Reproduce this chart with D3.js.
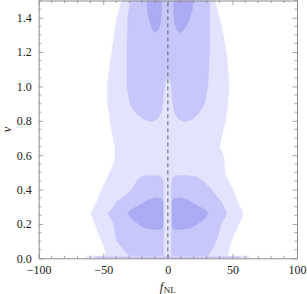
<!DOCTYPE html>
<html><head><meta charset="utf-8">
<script src="https://cdn.jsdelivr.net/npm/d3@7"></script>
<style>html,body{margin:0;padding:0;background:#fff;}svg{display:block;}</style>
</head><body>
<svg id="c" width="307" height="294"></svg>
<script>
// ---- data: contour boundaries as [fNL, nu] ----
const xTicks = [-100, -50, 0, 50, 100];
const yTicks = [0.0, 0.2, 0.4, 0.6, 0.8, 1.0, 1.2, 1.4];
const xDomain = [-100, 100];
const yDomain = [0, 1.5];

const outerRegion = [
  [-35.5,1.56],[-35.7,1.5],[-39.6,1.4],[-41.5,1.3],[-43.4,1.2],[-45.5,1.1],[-46.8,1.0],[-46.5,0.9],
  [-44.8,0.8],[-42.5,0.7],[-40.9,0.645],[-40.9,0.6],[-42,0.55],[-44.8,0.5],[-48,0.45],
  [-51.2,0.4],[-54,0.35],[-56.9,0.3],[-59.7,0.26],[-58,0.23],[-56.4,0.2],[-54,0.15],
  [-51.2,0.1],[-49,0.05],[-47.3,0.0],[-47,-0.05],
  [45.8,-0.05],[45.8,0],[47.5,0.05],[49.2,0.1],[52,0.15],[55,0.2],[57,0.23],[58.2,0.26],[56,0.3],
  [53,0.35],[50.5,0.4],[47,0.45],[44,0.5],[44,0.55],[43,0.6],[40.2,0.645],[41.4,0.7],
  [43,0.75],[44.8,0.8],[46.5,0.9],[47.4,1.0],[46.5,1.1],[45.3,1.2],[43,1.3],[40.2,1.4],[36.3,1.5],[36,1.56]
];

const middleUpper = [
  [-29,1.56],[-29.3,1.5],[-31,1.4],[-31.8,1.2],[-31.8,1.0],[-29.3,0.9],[-27.5,0.87],[-24,0.84],
  [-19,0.81],[-13,0.795],[-8,0.81],[-5,0.85],[-3.5,0.92],[-2.7,1.0],[-1.5,1.04],[0,1.05],
  [1.5,1.04],[2.7,1.0],[3.5,0.92],[5,0.85],[8,0.81],[13,0.795],[19.5,0.81],[24.6,0.85],
  [28.5,0.9],[31,1.0],[32.4,1.2],[32.4,1.4],[32.4,1.5],[32.4,1.56]
];

const middleLowerLeft = [
  [-3.2,-0.05],[-3.2,0.44],[-4.5,0.47],[-7,0.48],[-14,0.482],[-20,0.478],[-24,0.45],[-28,0.4],
  [-34,0.36],[-39.6,0.33],[-42,0.3],[-46.5,0.26],[-44,0.23],[-42,0.2],[-41,0.15],[-39.6,0.1],
  [-34,0.05],[-28,0.0],[-27,-0.05]
];

const middleLowerRight = [
  [2.7,-0.05],[2.7,0.44],[3.8,0.47],[6,0.482],[14,0.482],[22,0.475],[27.3,0.45],[33.7,0.4],
  [38,0.36],[41.4,0.33],[43.5,0.3],[45.8,0.26],[43.5,0.23],[41.4,0.2],[39.5,0.15],[37.5,0.1],
  [34,0.05],[29.8,0.0],[29,-0.05]
];

const innerUpperLeft = [
  [-16.6,1.56],[-16.4,1.5],[-15.5,1.42],[-13.5,1.36],[-11.5,1.325],[-9.5,1.313],[-7.2,1.33],
  [-5.6,1.37],[-4.9,1.44],[-4.8,1.5],[-4.8,1.56]
];

const innerUpperRight = [
  [4.3,1.56],[4.3,1.5],[4.5,1.42],[5.5,1.36],[7.5,1.322],[9.4,1.312],[11.5,1.322],[14.5,1.355],
  [17.2,1.40],[19,1.45],[19.7,1.5],[19.8,1.56]
];

const innerLowerLeft = [
  [-3.7,0.33],[-5,0.348],[-10,0.352],[-15.9,0.337],[-22,0.31],[-29.3,0.28],[-30.6,0.26],
  [-29,0.24],[-26.7,0.22],[-21,0.19],[-16.4,0.173],[-10,0.167],[-5,0.17],[-3.7,0.185]
];

const innerLowerRight = [
  [3.2,0.185],[4.5,0.17],[10,0.167],[16,0.173],[21,0.19],[27,0.22],[29.5,0.24],[31.1,0.26],
  [29.5,0.28],[22,0.31],[16,0.337],[10,0.352],[4.5,0.348],[3.2,0.33]
];

const bottomStripOuter = [[-63,0],[63,0],[63,0.013],[-63,0.013]];
const bottomStripMiddle = [[-56,0],[56,0],[56,0.009],[-56,0.009]];

const referenceLine = [[0,0],[0,1.5]];

// ---- drawing ----
const W = 307, H = 294;
const L = 38.7, R = 297, T = 0.5, B = 258.3;
const svg = d3.select("#c");
const x = d3.scaleLinear().domain(xDomain).range([L, R]);
const y = d3.scaleLinear().domain(yDomain).range([B, T]);

svg.append("defs").append("clipPath").attr("id","clip")
  .append("rect").attr("x",L).attr("y",T).attr("width",R-L).attr("height",B-T);

const g = svg.append("g").attr("clip-path","url(#clip)");
const area = d3.line().x(d=>x(d[0])).y(d=>y(d[1])).curve(d3.curveLinearClosed);

const cOuter = "#e3e3fe", cMid = "#c7c7fb", cIn = "#ababf3";
[[outerRegion,cOuter],[middleUpper,cMid],[middleLowerLeft,cMid],[middleLowerRight,cMid],
 [innerUpperLeft,cIn],[innerUpperRight,cIn],[innerLowerLeft,cIn],[innerLowerRight,cIn],
 [bottomStripOuter,cOuter],[bottomStripMiddle,cMid]]
 .forEach(([pts,c])=>{
   g.append("path").attr("d",area(pts)).attr("fill",c).attr("stroke",c).attr("stroke-width",0.4);
 });

g.append("path")
  .attr("d", d3.line().x(d=>x(d[0])).y(d=>y(d[1]))(referenceLine))
  .attr("stroke","#666").attr("stroke-width",1).attr("stroke-dasharray","4,3").attr("fill","none");

// frame and ticks (Mathematica style: ticks inside on all sides)
const frameColor = "#8c8c8c";
const font = "'Liberation Serif', 'Times New Roman', 'DejaVu Serif', serif";
const axB = svg.append("g").attr("transform",`translate(0,${B})`)
  .call(d3.axisBottom(x).tickValues(xTicks).tickSizeInner(-4.5).tickSizeOuter(0)
        .tickFormat(d=>d3.format("")(d).replace("-","\u2212")).tickPadding(7));
const axT = svg.append("g").attr("transform",`translate(0,${T})`)
  .call(d3.axisTop(x).tickValues(xTicks).tickSizeInner(-4.5).tickSizeOuter(0).tickFormat(""));
const axL = svg.append("g").attr("transform",`translate(${L},0)`)
  .call(d3.axisLeft(y).tickValues(yTicks).tickSizeInner(-4.5).tickSizeOuter(0)
        .tickFormat(d3.format(".1f")).tickPadding(7));
const axR = svg.append("g").attr("transform",`translate(${R},0)`)
  .call(d3.axisRight(y).tickValues(yTicks).tickSizeInner(-4.5).tickSizeOuter(0).tickFormat(""));

// minor ticks
const xMinor = d3.range(-100, 100.1, 10).filter(v => v % 50 !== 0);
const yMinor = d3.range(0, 1.5001, 0.05).map(v=>+v.toFixed(2)).filter(v => Math.abs(v*5 - Math.round(v*5))>1e-6);
[[axB,-2.5],[axT,2.5]].forEach(([a,s],i)=>{
  a.selectAll("line.minor").data(xMinor).enter().append("line").attr("class","minor")
   .attr("x1",d=>x(d)).attr("x2",d=>x(d)).attr("y1",0).attr("y2",s);
});
[[axL,2.5],[axR,-2.5]].forEach(([a,s])=>{
  a.selectAll("line.minor").data(yMinor).enter().append("line").attr("class","minor")
   .attr("y1",d=>y(d)).attr("y2",d=>y(d)).attr("x1",0).attr("x2",s);
});

[axB,axT,axL,axR].forEach(a=>{
  a.attr("font-family",font);
  a.selectAll("path.domain").attr("stroke",frameColor).attr("stroke-width",1);
  a.selectAll("line").attr("stroke",frameColor).attr("stroke-width",0.8);
  a.selectAll("text").attr("fill","#222").attr("font-family",font).style("font-family",font).style("font-size","12px");
});

// axis labels
const xl = svg.append("text").attr("x", x(0)).attr("y", 291).attr("text-anchor","middle")
  .style("font-family",font).style("font-size","12.5px").attr("fill","#222");
xl.append("tspan").text("f").style("font-style","italic");
xl.append("tspan").text("NL").attr("dy",2).style("font-size","9px").attr("dx",0.5);

svg.append("text").attr("transform",`translate(11,${y(0.75)}) rotate(-90)`)
  .attr("text-anchor","middle").style("font-family",font).style("font-size","12.5px")
  .style("font-style","italic").attr("fill","#222").text("\u03BD");
</script>
</body></html>
